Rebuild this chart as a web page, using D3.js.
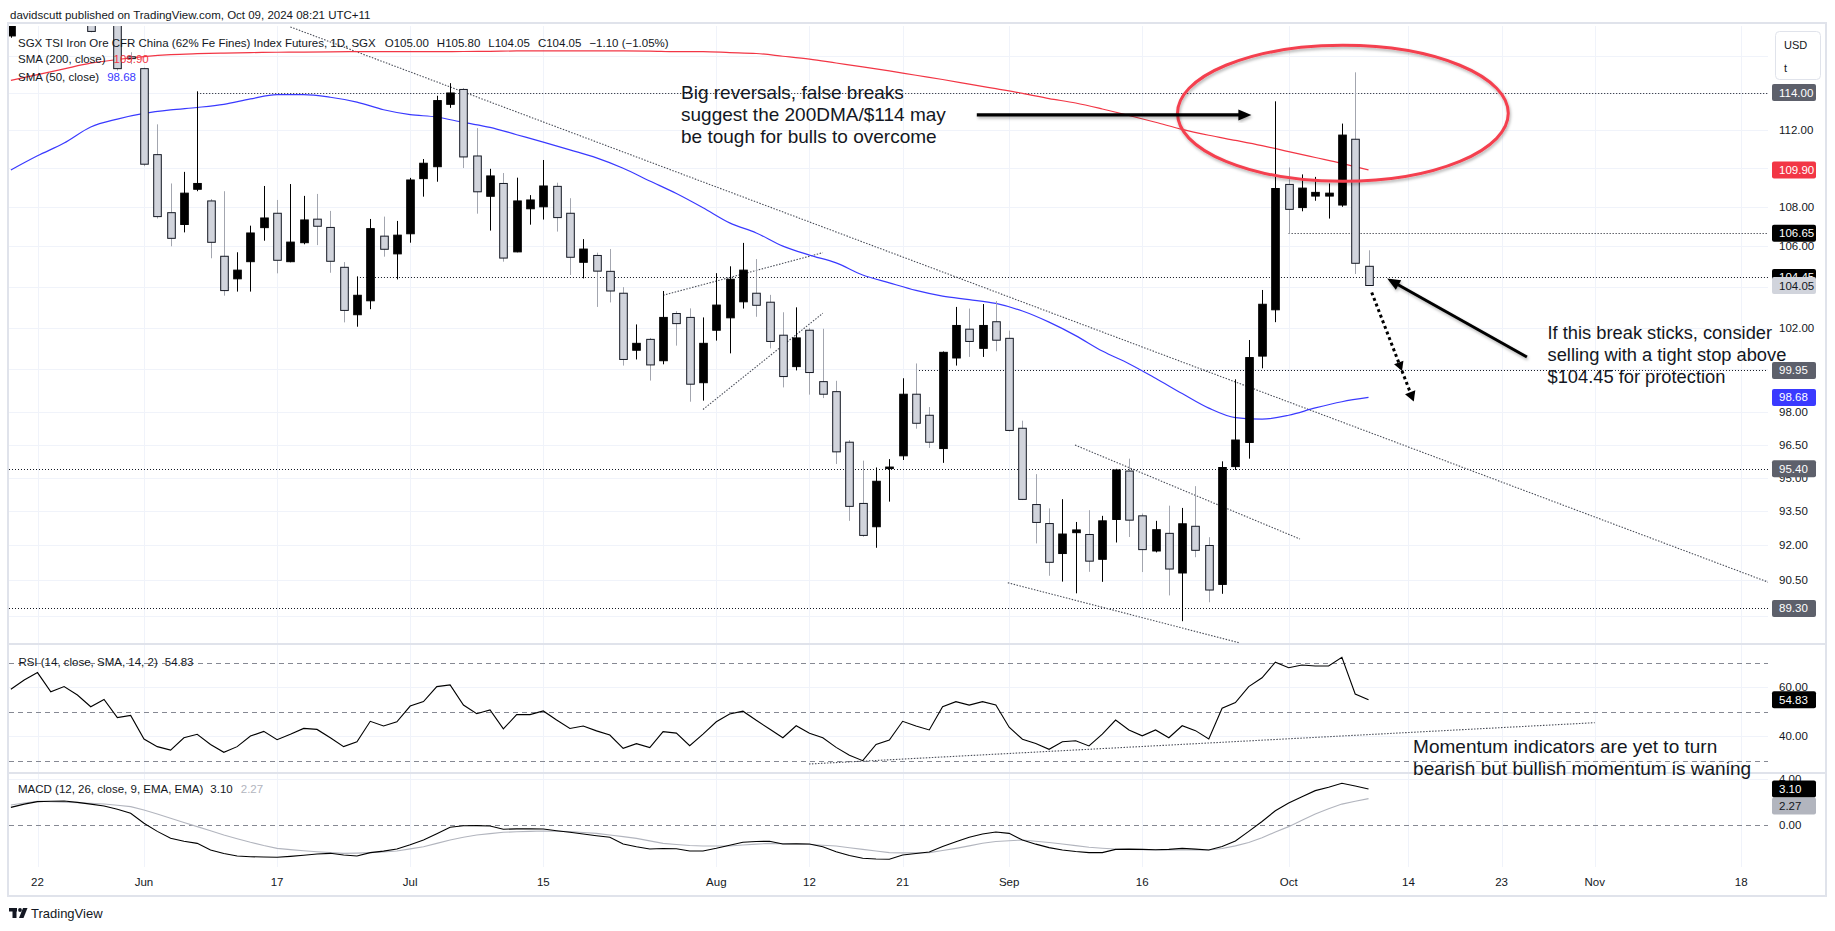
<!DOCTYPE html>
<html><head><meta charset="utf-8">
<script src="https://cdn.jsdelivr.net/npm/d3@7"></script>
<style>
html,body{margin:0;padding:0;background:#fff;overflow:hidden;}
svg{display:block;font-family:"Liberation Sans",Arial,sans-serif;}
</style></head><body>
<svg id="chart" width="1835" height="931"></svg>
<script>
// ================= DATA =================
const firstDate = "2024-05-20";   // trading day of the first candle (index -2)
const firstIndex = -2;
const opens = [117.1,118.6,119.3,118.8,118.3,118.6,118.6,117.9,118.3,115.95,115.3,110.7,107.7,107.1,108.9,108.3,105.5,104.38,105.23,106.94,107.67,105.23,106.18,107.37,106.95,104.95,102.62,103.3,106.51,105.62,106.63,109.45,110.07,113.37,114.17,110.63,108.54,109.2,105.72,107.9,108.0,109.05,107.67,105.2,105.54,104.75,103.67,100.91,101.43,100.41,102.68,102.49,99.37,101.87,102.47,103.25,103.67,103.23,101.63,100.13,101.87,99.42,98.95,96.61,93.85,92.82,95.42,95.99,98.83,97.85,96.32,100.54,101.92,101.0,102.28,101.48,97.25,93.8,92.96,91.65,92.56,92.48,91.4,93.14,95.3,93.3,91.76,92.53,90.81,92.84,92.0,90.32,95.5,96.6,100.63,102.86,109.15,107.96,108.55,108.55,108.09,111.51,105.0];
const highs = [119.0,119.6,120.2,119.5,119.0,119.2,119.0,118.8,118.6,116.2,115.35,112.3,109.2,109.8,114.07,108.4,108.8,105.7,107.04,109.07,108.35,109.17,108.56,108.66,107.79,105.21,104.5,107.38,107.5,107.28,109.49,110.47,113.83,114.51,114.25,112.1,109.96,109.74,109.5,108.6,110.42,109.24,108.44,106.36,105.68,105.86,103.97,102.15,101.5,103.78,102.79,102.93,102.49,104.66,105.0,106.17,105.36,103.59,102.74,102.98,101.98,101.94,99.46,96.71,95.77,95.46,95.84,99.58,100.28,98.23,100.85,103.0,102.92,103.14,103.29,101.85,97.6,95.16,93.63,94.04,93.03,93.55,93.3,95.4,95.86,93.4,93.08,93.75,93.65,94.62,92.36,95.74,99.53,101.4,103.83,113.53,110.03,109.67,109.54,109.2,112.34,115.1,105.8];
const lows = [117.0,118.0,118.4,118.0,117.9,118.0,117.3,117.8,115.2,115.55,110.1,107.4,106.0,106.7,108.8,105.4,103.55,103.75,103.75,106.28,104.65,105.2,106.1,106.06,104.68,102.25,102.04,102.89,105.48,104.35,106.18,108.52,109.29,113.18,110.0,107.65,106.79,105.23,105.7,107.09,107.35,106.74,104.57,104.4,103.0,103.22,100.18,100.47,99.47,100.24,101.13,98.48,98.53,101.37,100.76,102.92,102.52,101.0,99.15,99.95,98.81,98.65,95.62,93.08,92.38,91.9,93.93,95.8,97.23,96.35,95.67,100.18,100.59,100.59,100.86,97.1,94.0,92.09,90.69,90.44,89.94,90.86,90.43,92.13,92.37,90.85,91.7,89.85,88.76,91.49,89.56,89.92,95.35,95.86,100.05,102.26,106.63,107.77,108.31,107.4,108.0,104.62,104.05];
const closes = [118.6,119.3,118.8,118.3,118.6,118.2,117.35,118.3,115.3,115.85,110.2,107.5,106.4,108.7,109.2,106.2,103.8,104.81,106.67,107.43,105.3,106.21,107.33,107.01,105.25,102.83,103.57,106.89,105.85,106.56,109.38,110.25,113.57,113.98,110.58,108.77,109.59,105.41,108.3,108.35,109.07,107.45,105.45,105.86,104.76,103.78,100.47,101.24,100.21,102.49,102.19,99.3,101.24,103.09,104.36,104.81,103.08,101.33,99.66,101.5,99.85,98.83,96.17,93.72,92.44,94.84,95.48,98.83,97.48,96.61,100.81,102.1,101.33,102.1,101.39,97.15,94.03,93.01,91.27,92.5,92.68,91.32,93.08,95.35,93.11,91.82,92.69,90.98,92.95,91.79,90.08,95.46,96.71,100.56,103.13,108.94,107.87,108.96,108.74,108.7,111.73,105.15,104.05];
const rsi = [59.1,62.9,65.9,58.1,60.2,56.8,52.0,55.0,47.6,48.5,38.9,35.8,34.4,39.4,40.8,36.7,33.5,35.8,40.1,42.0,38.6,40.8,43.2,42.8,39.4,35.8,37.8,46.1,44.2,45.9,52.3,54.1,60.2,60.9,52.7,49.2,50.7,43.0,48.8,48.8,50.3,46.6,43.2,44.2,42.2,40.5,35.1,37.0,35.4,41.9,41.3,36.2,40.9,45.9,49.1,50.2,46.5,43.0,39.4,44.3,41.2,39.4,35.5,32.3,30.1,36.7,38.5,46.1,44.2,42.6,52.0,54.1,52.7,54.1,52.7,43.7,38.8,37.1,34.7,37.8,38.2,36.1,40.9,46.6,42.6,40.2,42.6,39.4,44.3,42.3,38.9,51.4,53.7,60.2,63.8,70.1,67.9,69.0,68.6,68.6,72.1,57.2,54.83];
const macd = [1.52,1.80,2.01,2.05,2.07,1.95,1.80,1.64,1.35,1.01,0.15,-0.55,-1.15,-1.40,-1.58,-2.15,-2.45,-2.67,-2.73,-2.76,-2.78,-2.70,-2.60,-2.50,-2.44,-2.58,-2.67,-2.38,-2.25,-2.07,-1.70,-1.29,-0.75,-0.20,-0.06,-0.05,-0.09,-0.37,-0.33,-0.32,-0.34,-0.49,-0.62,-0.78,-0.92,-1.06,-1.64,-1.88,-2.07,-2.03,-2.04,-2.24,-2.24,-2.01,-1.75,-1.49,-1.42,-1.40,-1.64,-1.62,-1.64,-1.87,-2.30,-2.62,-2.87,-2.93,-2.95,-2.58,-2.45,-2.33,-1.85,-1.44,-1.05,-0.78,-0.60,-0.72,-1.29,-1.65,-1.95,-2.15,-2.28,-2.38,-2.38,-2.10,-2.08,-2.10,-2.13,-2.10,-2.01,-2.08,-2.15,-1.85,-1.38,-0.55,0.30,1.23,1.90,2.44,2.96,3.25,3.59,3.36,3.10];
const signal = [1.72,1.90,2.04,2.00,1.96,1.92,1.87,1.81,1.70,1.58,1.29,0.95,0.58,0.22,-0.14,-0.50,-0.86,-1.18,-1.49,-1.77,-2.01,-2.12,-2.22,-2.30,-2.38,-2.44,-2.42,-2.38,-2.32,-2.24,-2.06,-1.87,-1.58,-1.29,-1.06,-0.86,-0.74,-0.63,-0.58,-0.55,-0.52,-0.54,-0.57,-0.64,-0.72,-0.86,-1.00,-1.15,-1.37,-1.58,-1.68,-1.76,-1.81,-1.81,-1.81,-1.72,-1.65,-1.58,-1.60,-1.61,-1.68,-1.74,-1.81,-1.96,-2.10,-2.24,-2.38,-2.40,-2.40,-2.38,-2.20,-2.01,-1.80,-1.57,-1.42,-1.35,-1.29,-1.40,-1.51,-1.63,-1.78,-1.92,-2.00,-2.07,-2.11,-2.13,-2.15,-2.15,-2.15,-2.15,-2.15,-2.02,-1.80,-1.50,-1.10,-0.60,-0.14,0.40,0.95,1.40,1.80,2.05,2.27];
const smaStep = 2; // moving averages read every second bar, from index -2
const sma50 = [109.90,110.64,111.31,112.16,112.58,112.88,113.07,113.20,113.37,113.66,113.89,113.89,113.75,113.49,113.08,112.82,112.69,112.40,112.14,111.75,111.36,110.95,110.53,109.99,109.33,108.68,107.95,107.18,106.67,106.01,105.56,105.17,104.57,104.18,103.81,103.53,103.36,103.17,102.80,102.26,101.61,100.87,100.27,99.58,98.86,98.18,97.74,97.67,97.85,98.19,98.48,98.68];
const sma200 = [114.66,114.97,115.29,115.60,115.80,115.96,116.07,116.12,116.15,116.18,116.20,116.21,116.22,116.23,116.23,116.23,116.23,116.24,116.25,116.27,116.27,116.27,116.27,116.27,116.26,116.23,116.23,116.18,116.13,115.98,115.82,115.61,115.40,115.18,114.94,114.71,114.46,114.21,113.96,113.68,113.44,113.12,112.77,112.41,112.03,111.72,111.45,111.17,110.86,110.55,110.24,109.90];

const tickDates = ["2024-05-22","2024-06-03","2024-06-17","2024-07-01","2024-07-15","2024-08-01","2024-08-12","2024-08-21","2024-09-02","2024-09-16","2024-10-01","2024-10-14","2024-10-23","2024-11-01","2024-11-18"];
const tickLabels = ["22","Jun","17","Jul","15","Aug","12","21","Sep","16","Oct","14","23","Nov","18"];
const priceGrid = [116,114,112,110,108,106,104,102,100,98,96.5,95,93.5,92,90.5,89];
const priceTickLabels = [112,108,106,102,98,96.5,95,93.5,92,90.5];
const rsiGrid = [60,40], rsiDashed = [70,50,30], rsiTickLabels = [60,40];
const macdGrid = [4], macdDashed = [0], macdTickLabels = [4,0];

const levelPrices = [114.00,106.65,104.45,99.95,95.40,89.30];
const levelStart  = [12,94,24,66,-4,-4];
const levelColors = ["#5d606b","#000000","#000000","#5d606b","#5d606b","#5d606b"];

const trendLines = [
  [[19,117.6],[130.2,90.38]],
  [[77.95,96.48],[94.85,92.28]],
  [[72.9,90.39],[90.34,87.85]],
  [[47,103.57],[59,105.68]],
  [[50,98.12],[59,102.69]]
];
const rsiTrend = [[57.96,28.74],[117,45.53]];
const arrowBig = [[70.57,112.8],[91.2,112.8]];
const arrowStop = [[111.9,100.59],[101.4,104.39]];
const arrowDotted = [[100.24,103.71],[103.4,98.49]];
const ellipseBox = [[85.65,116.58],[110.5,109.31]];
const note1 = {i:48.35, p:114.0, lines:["Big reversals, false breaks","suggest the 200DMA/$114 may","be tough for bulls to overcome"]};
const note2 = {i:113.45, p:101.77, lines:["If this break sticks, consider","selling with a tight stop above","$104.45 for protection"]};
const note3 = {i:103.35, r:35.77, lines:["Momentum indicators are yet to turn","bearish but bullish momentum is waning"]};

// ================= LAYOUT =================
const svg = d3.select("#chart");
const plotL = 9, plotR = 1768, axisR = 1826;
const mainTop = 26, mainBot = 643.5, rsiTop = 645, rsiBot = 772.5, macdTop = 774, macdBot = 867;
const x  = d3.scaleLinear().domain([0,128]).range([37.5,1741.2]);
const y  = d3.scaleLog().domain([89.3,114]).range([608.4,92.6]);
const yR = d3.scaleLinear().domain([30,70]).range([760.9,662.5]);
const yM = d3.scaleLinear().domain([0,4]).range([825,778.56]);
const ink = "#131722", gridC = "#f0f3fa", sepC = "#e0e3eb";

const days = [];
{ let d = new Date(firstDate+"T00:00:00Z");
  while (days.length < 160) { const w = d.getUTCDay(); if (w!==0 && w!==6) days.push(d.toISOString().slice(0,10)); d.setUTCDate(d.getUTCDate()+1); } }
const idxOf = s => days.indexOf(s) + firstIndex;

svg.append("rect").attr("width",1835).attr("height",931).attr("fill","#fff");
const defs = svg.append("defs");
[["clipMain",mainTop,mainBot],["clipRsi",rsiTop,rsiBot],["clipMacd",macdTop,macdBot]].forEach(([id,t,b])=>{
  defs.append("clipPath").attr("id",id).append("rect").attr("x",plotL).attr("y",t).attr("width",plotR-plotL).attr("height",b-t);
});
const f = defs.append("filter").attr("id","shadow").attr("x","-20%").attr("y","-20%").attr("width","140%").attr("height","140%");
f.append("feDropShadow").attr("dx",1).attr("dy",2).attr("stdDeviation",1.6).attr("flood-color","#000").attr("flood-opacity",0.3);

svg.append("text").attr("x",10).attr("y",15).attr("dominant-baseline","central").attr("font-size",11.5).attr("fill",ink)
  .text("davidscutt published on TradingView.com, Oct 09, 2024 08:21 UTC+11");

svg.append("rect").attr("x",8).attr("y",23).attr("width",axisR-8).attr("height",896-23).attr("fill","none").attr("stroke",sepC).attr("stroke-width",2);

const gGrid = svg.append("g");
tickDates.forEach(dt=>{
  const xx = Math.round(x(idxOf(dt)))+0.5;
  gGrid.append("line").attr("x1",xx).attr("x2",xx).attr("y1",mainTop).attr("y2",macdBot).attr("stroke",gridC);
});
priceGrid.forEach(p=>{ const yy=Math.round(y(p))+0.5;
  gGrid.append("line").attr("x1",plotL).attr("x2",plotR).attr("y1",yy).attr("y2",yy).attr("stroke",gridC); });
rsiGrid.forEach(v=>{ const yy=Math.round(yR(v))+0.5;
  gGrid.append("line").attr("x1",plotL).attr("x2",plotR).attr("y1",yy).attr("y2",yy).attr("stroke",gridC); });
macdGrid.forEach(v=>{ const yy=Math.round(yM(v))+0.5;
  gGrid.append("line").attr("x1",plotL).attr("x2",plotR).attr("y1",yy).attr("y2",yy).attr("stroke",gridC); });

[mainBot+0.5, rsiBot+0.5].forEach(yy=>svg.append("line").attr("x1",8).attr("x2",axisR).attr("y1",yy).attr("y2",yy).attr("stroke",sepC).attr("stroke-width",2));

// ===== main pane =====
const gM = svg.append("g").attr("clip-path","url(#clipMain)");
levelPrices.forEach((p,k)=>{
  const yy = Math.round(y(p))+0.5;
  gM.append("line").attr("x1",Math.max(plotL,x(levelStart[k]))).attr("x2",plotR).attr("y1",yy).attr("y2",yy)
    .attr("stroke",ink).attr("stroke-width",1).attr("stroke-dasharray","1,2");
});
trendLines.forEach(tl=>{
  gM.append("line").attr("x1",x(tl[0][0])).attr("y1",y(tl[0][1])).attr("x2",x(tl[1][0])).attr("y2",y(tl[1][1]))
    .attr("stroke","#4a4e59").attr("stroke-width",1.1).attr("stroke-dasharray","1.5,1.5");
});
const maLine = arr => d3.line().curve(d3.curveMonotoneX).x((v,k)=>x(firstIndex+k*smaStep)).y(v=>y(v))(arr);
gM.append("path").attr("d",maLine(sma200)).attr("fill","none").attr("stroke","#f23645").attr("stroke-width",1.2);
gM.append("path").attr("d",maLine(sma50)).attr("fill","none").attr("stroke","#3a3aff").attr("stroke-width",1.2);
const candles = opens.map((o,k)=>({i:k+firstIndex,o,h:highs[k],l:lows[k],c:closes[k]}));
const bw = 7.6;
gM.selectAll("line.wick").data(candles).join("line").attr("class","wick")
  .attr("x1",d=>Math.round(x(d.i))+0.5).attr("x2",d=>Math.round(x(d.i))+0.5)
  .attr("y1",d=>y(d.h)).attr("y2",d=>y(d.l))
  .attr("stroke",d=>d.c>=d.o?"#000":"#a3a6af").attr("stroke-width",1);
gM.selectAll("rect.body").data(candles).join("rect").attr("class","body")
  .attr("x",d=>Math.round(x(d.i))+0.5-bw/2)
  .attr("y",d=>y(Math.max(d.o,d.c)))
  .attr("width",bw)
  .attr("height",d=>Math.max(1.5,Math.abs(y(d.o)-y(d.c))))
  .attr("fill",d=>d.c>=d.o?"#000":"#d1d4dc")
  .attr("stroke",d=>d.c>=d.o?"#000":ink).attr("stroke-width",1);

// ===== annotations =====
function headPts(x1,y1,x2,y2,len,hw){
  const a=Math.atan2(y2-y1,x2-x1), bx=x2-len*Math.cos(a), by=y2-len*Math.sin(a);
  const px=-Math.sin(a)*hw, py=Math.cos(a)*hw;
  return [[x2,y2],[bx+px,by+py],[bx-px,by-py]].map(p=>p.join(",")).join(" ");
}
const gA = svg.append("g");
{ const x1=x(ellipseBox[0][0]), x2=x(ellipseBox[1][0]), y1=y(ellipseBox[0][1]), y2=y(ellipseBox[1][1]);
  gA.append("ellipse").attr("cx",(x1+x2)/2).attr("cy",(y1+y2)/2).attr("rx",(x2-x1)/2).attr("ry",(y2-y1)/2)
    .attr("fill","none").attr("stroke","#f4414f").attr("stroke-width",3).attr("filter","url(#shadow)"); }
[[arrowBig,3.2],[arrowStop,3]].forEach(([a,w])=>{
  const x1=x(a[0][0]),y1=y(a[0][1]),x2=x(a[1][0]),y2=y(a[1][1]);
  const g=gA.append("g").attr("filter","url(#shadow)");
  const ang=Math.atan2(y2-y1,x2-x1);
  g.append("line").attr("x1",x1).attr("y1",y1).attr("x2",x2-10*Math.cos(ang)).attr("y2",y2-10*Math.sin(ang)).attr("stroke","#000").attr("stroke-width",w);
  g.append("polygon").attr("points",headPts(x1,y1,x2,y2,13,5.5)).attr("fill","#000");
});
{ const a=arrowDotted, x1=x(a[0][0]),y1=y(a[0][1]),x2=x(a[1][0]),y2=y(a[1][1]);
  const ang=Math.atan2(y2-y1,x2-x1);
  gA.append("line").attr("x1",x1).attr("y1",y1).attr("x2",x2-6*Math.cos(ang)).attr("y2",y2-6*Math.sin(ang))
    .attr("stroke","#000").attr("stroke-width",3).attr("stroke-dasharray","3,3");
  const mx=x1+(x2-x1)*0.72, my=y1+(y2-y1)*0.72;
  gA.append("polygon").attr("points",headPts(x1,y1,mx,my,9,5)).attr("fill","#000");
  gA.append("polygon").attr("points",headPts(x1,y1,x2,y2,10,5.5)).attr("fill","#000");
}
function note(n, xx, yy, fs){
  const t = gA.append("text").attr("font-size",fs).attr("fill",ink);
  n.lines.forEach((s,k)=>t.append("tspan").attr("x",xx).attr("y",yy+k*22).attr("dominant-baseline","central").text(s));
}
note(note1, x(note1.i), y(note1.p), 19);
note(note2, x(note2.i), y(note2.p), 18.3);

// ===== RSI pane =====
const gR = svg.append("g").attr("clip-path","url(#clipRsi)");
rsiDashed.forEach(v=>{ const yy=Math.round(yR(v))+0.5;
  gR.append("line").attr("x1",plotL).attr("x2",plotR).attr("y1",yy).attr("y2",yy).attr("stroke","#868993").attr("stroke-dasharray","5,4"); });
gR.append("line").attr("x1",x(rsiTrend[0][0])).attr("y1",yR(rsiTrend[0][1])).attr("x2",x(rsiTrend[1][0])).attr("y2",yR(rsiTrend[1][1]))
  .attr("stroke","#4a4e59").attr("stroke-width",1.1).attr("stroke-dasharray","1.5,1.5");
gR.append("path").attr("d",d3.line().x((v,k)=>x(k+firstIndex)).y(v=>yR(v))(rsi)).attr("fill","none").attr("stroke","#000").attr("stroke-width",1.1);
note(note3, x(note3.i), yR(note3.r), 19);

// ===== MACD pane =====
const gD = svg.append("g").attr("clip-path","url(#clipMacd)");
macdDashed.forEach(v=>{ const yy=Math.round(yM(v))+0.5;
  gD.append("line").attr("x1",plotL).attr("x2",plotR).attr("y1",yy).attr("y2",yy).attr("stroke","#868993").attr("stroke-dasharray","5,4"); });
gD.append("path").attr("d",d3.line().x((v,k)=>x(k+firstIndex)).y(v=>yM(v))(signal)).attr("fill","none").attr("stroke","#b2b5be").attr("stroke-width",1.1);
gD.append("path").attr("d",d3.line().x((v,k)=>x(k+firstIndex)).y(v=>yM(v))(macd)).attr("fill","none").attr("stroke","#000").attr("stroke-width",1.1);

// ===== legends (items chained by measured width) =====
const lg = svg.append("g").attr("font-size",11.5).attr("fill",ink);
function chain(x0, yy, items){
  let cx = x0;
  items.forEach(([s,c,gap])=>{
    cx += gap||0;
    const t = lg.append("text").attr("x",cx).attr("y",yy).attr("dominant-baseline","central").attr("fill",c||ink).text(s);
    cx += t.node().getComputedTextLength();
  });
}
chain(18,42.7,[["SGX TSI Iron Ore CFR China (62% Fe Fines) Index Futures, 1D, SGX"],["O105.00",ink,9],["H105.80",ink,8],["L104.05",ink,8],["C104.05",ink,8],["\u22121.10 (\u22121.05%)",ink,8]]);
chain(18,59.3,[["SMA (200, close)"],[sma200[sma200.length-1].toFixed(2),"#f23645",8]]);
chain(18,76.7,[["SMA (50, close)"],[sma50[sma50.length-1].toFixed(2),"#3a3aff",8]]);
chain(18.4,661.7,[["RSI (14, close, SMA, 14, 2)"],[rsi[rsi.length-1].toFixed(2),ink,7]]);
chain(18,789.3,[["MACD (12, 26, close, 9, EMA, EMA)"],[macd[macd.length-1].toFixed(2),ink,7],[signal[signal.length-1].toFixed(2),"#b2b5be",8]]);

// ===== right axis =====
const ax = svg.append("g").attr("font-size",11.5).attr("fill",ink);
const axX = 1779;
priceTickLabels.forEach(p=>ax.append("text").attr("x",axX).attr("y",y(p)).attr("dominant-baseline","central").text(p.toFixed(2)));
rsiTickLabels.forEach(v=>ax.append("text").attr("x",axX).attr("y",yR(v)).attr("dominant-baseline","central").text(v.toFixed(2)));
macdTickLabels.forEach(v=>ax.append("text").attr("x",axX).attr("y",yM(v)).attr("dominant-baseline","central").text(v.toFixed(2)));
function box(yy,val,bg,fg){
  ax.append("rect").attr("x",1772).attr("y",yy-8.5).attr("width",44).attr("height",17).attr("rx",2).attr("fill",bg);
  ax.append("text").attr("x",axX).attr("y",yy).attr("dominant-baseline","central").attr("fill",fg||"#fff").text(val.toFixed(2));
}
box(y(levelPrices[0]),levelPrices[0],levelColors[0]);
box(y(sma200[sma200.length-1]),sma200[sma200.length-1],"#f23645");
box(y(levelPrices[1]),levelPrices[1],levelColors[1]);
box(y(levelPrices[2]),levelPrices[2],levelColors[2]);
box(y(closes[closes.length-1]),closes[closes.length-1],"#d1d4dc",ink);
box(y(levelPrices[3]),levelPrices[3],levelColors[3]);
box(y(sma50[sma50.length-1]),sma50[sma50.length-1],"#3a3aff");
box(y(levelPrices[4]),levelPrices[4],levelColors[4]);
box(y(levelPrices[5]),levelPrices[5],levelColors[5]);
box(yR(rsi[rsi.length-1]),rsi[rsi.length-1],"#000");
const yMacdLast = yM(macd[macd.length-1]);
box(yMacdLast,macd[macd.length-1],"#000");
box(Math.max(yM(signal[signal.length-1]),yMacdLast+17),signal[signal.length-1],"#b2b5be","#131722");
ax.append("rect").attr("x",1775.5).attr("y",31.5).attr("width",45).attr("height",48).attr("rx",4).attr("fill","#fff").attr("stroke",sepC);
ax.append("text").attr("x",1784).attr("y",45).attr("dominant-baseline","central").attr("font-size",11).text("USD");
ax.append("text").attr("x",1784).attr("y",68).attr("dominant-baseline","central").attr("font-size",11).text("t");

// ===== time axis =====
const tx = svg.append("g").attr("font-size",11.5).attr("fill",ink).attr("text-anchor","middle");
tickDates.forEach((dt,k)=>tx.append("text").attr("x",x(idxOf(dt))).attr("y",881.7).attr("dominant-baseline","central").text(tickLabels[k]));

// ===== logo =====
const lo = svg.append("g").attr("fill","#131722");
lo.append("rect").attr("x",9).attr("y",908).attr("width",8).attr("height",3.5);
lo.append("rect").attr("x",12.5).attr("y",908).attr("width",4).attr("height",10);
lo.append("circle").attr("cx",20).attr("cy",910).attr("r",1.9);
lo.append("polygon").attr("points","23,908 27.5,908 23.5,918 19,918");
lo.append("text").attr("x",31).attr("y",913).attr("dominant-baseline","central").attr("font-size",13).text("TradingView");
</script></body></html>
